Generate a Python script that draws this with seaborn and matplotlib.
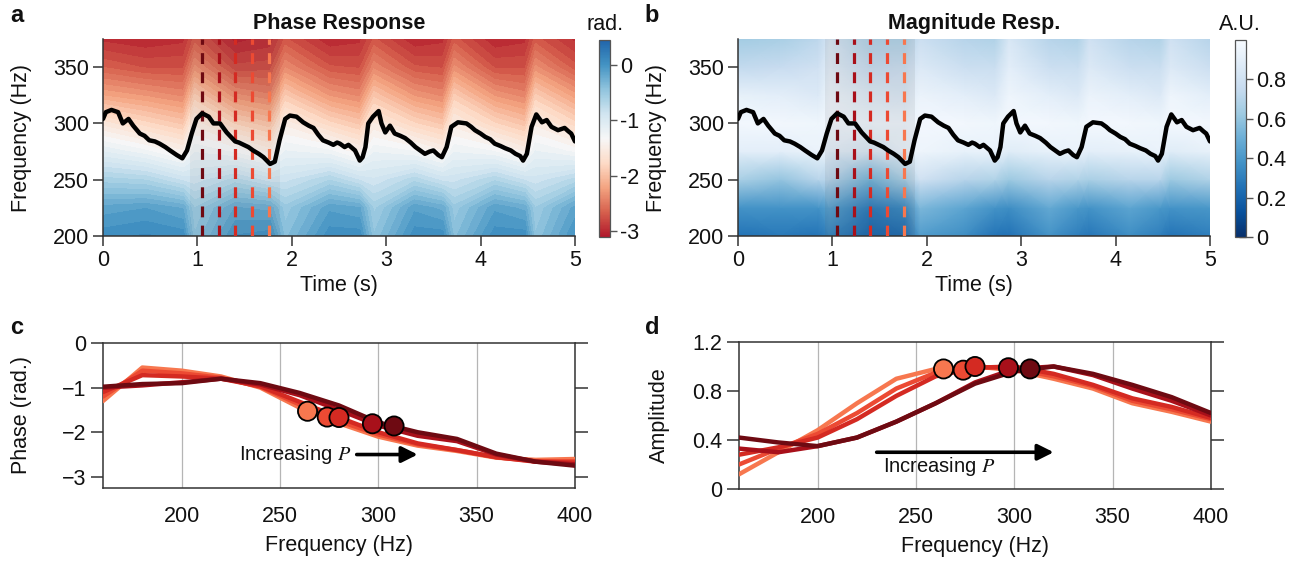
"""
Phase / magnitude response panels (a-d) recreated with seaborn + matplotlib
"""
import numpy as np
import matplotlib
matplotlib.use("Agg")
import matplotlib.pyplot as plt
from matplotlib.colors import Normalize
from matplotlib.cm import ScalarMappable
import seaborn as sns


# ---------------------------------------------------------------------------
# Data
# ---------------------------------------------------------------------------

# pitch track (black line in a and b)
pitch_t = [0.00, 0.03, 0.09, 0.16, 0.21, 0.27, 0.32, 0.39, 0.44, 0.49,
           0.55, 0.60, 0.66, 0.71, 0.78, 0.84, 0.89, 0.94, 0.99, 1.05,
           1.12, 1.17, 1.24, 1.31, 1.40, 1.44, 1.49, 1.54, 1.59, 1.65,
           1.70, 1.77, 1.82, 1.87, 1.93, 1.98, 2.05, 2.12, 2.18, 2.23,
           2.28, 2.33, 2.39, 2.44, 2.48, 2.51, 2.56, 2.60, 2.67, 2.72,
           2.75, 2.78, 2.81, 2.86, 2.92, 2.95, 2.99, 3.04, 3.09, 3.15,
           3.20, 3.26, 3.31, 3.36, 3.41, 3.46, 3.50, 3.55, 3.59, 3.64,
           3.69, 3.76, 3.85, 3.90, 3.94, 4.00, 4.05, 4.10, 4.15, 4.21,
           4.26, 4.32, 4.37, 4.42, 4.45, 4.49, 4.54, 4.59, 4.65, 4.70,
           4.75, 4.82, 4.89, 4.93, 4.96, 5.00]
pitch_f = [304, 310, 312, 310, 300, 304, 298, 291, 289, 285,
           284, 282, 279, 276, 272, 269, 276, 291, 304, 309,
           306, 300, 300, 292, 284, 283, 281, 279, 276, 273,
           270, 264, 266, 285, 304, 307, 306, 301, 298, 296,
           290, 285, 283, 281, 283, 282, 279, 281, 276, 267,
           270, 279, 300, 306, 311, 300, 292, 298, 291, 289,
           287, 283, 279, 276, 273, 275, 276, 272, 270, 279,
           297, 301, 300, 297, 294, 291, 288, 286, 282, 280,
           278, 276, 273, 271, 267, 273, 297, 308, 301, 303,
           297, 294, 296, 293, 291, 284]

# coarse time x frequency grids
grid_t = [0.00, 0.45, 0.85, 0.97, 1.40, 1.77, 1.93, 2.40, 2.72,
          2.87, 3.30, 3.60, 3.72, 4.15, 4.47, 4.58, 5.00]
grid_f = [200, 225, 250, 275, 300, 325, 350, 375]

phase_grid = [
    [0.05, 0.10, 0.05, -0.45, 0.00, 0.05, -0.40, 0.05, 0.05, -0.45, 0.05, 0.05, -0.40, 0.05, 0.05, -0.45, 0.00],
    [-0.15, -0.10, -0.20, -0.55, -0.18, -0.22, -0.52, -0.12, -0.18, -0.58, -0.12, -0.22, -0.52, -0.12, -0.22, -0.55, -0.15],
    [-0.60, -0.65, -0.85, -0.88, -0.70, -0.88, -0.86, -0.65, -0.84, -0.90, -0.68, -0.86, -0.86, -0.66, -0.84, -0.88, -0.70],
    [-1.10, -1.25, -1.45, -1.20, -1.30, -1.50, -1.18, -1.25, -1.45, -1.20, -1.28, -1.45, -1.20, -1.28, -1.48, -1.18, -1.30],
    [-1.60, -1.80, -1.95, -1.50, -1.85, -2.00, -1.50, -1.80, -1.95, -1.55, -1.82, -1.95, -1.52, -1.82, -1.98, -1.50, -1.80],
    [-2.20, -2.30, -2.40, -1.90, -2.35, -2.45, -1.92, -2.30, -2.40, -1.95, -2.30, -2.40, -1.90, -2.30, -2.42, -1.90, -2.25],
    [-2.65, -2.75, -2.75, -2.35, -2.80, -2.78, -2.38, -2.72, -2.75, -2.40, -2.72, -2.75, -2.35, -2.75, -2.75, -2.35, -2.70],
    [-2.95, -3.00, -2.95, -2.70, -3.05, -2.98, -2.72, -3.00, -2.95, -2.72, -3.00, -2.95, -2.70, -3.00, -2.95, -2.70, -2.95],
]

mag_grid = [
    [0.26, 0.28, 0.26, 0.32, 0.20, 0.22, 0.42, 0.36, 0.26, 0.25, 0.38, 0.30, 0.27, 0.36, 0.30, 0.26, 0.30],
    [0.38, 0.38, 0.38, 0.44, 0.28, 0.34, 0.54, 0.46, 0.38, 0.36, 0.48, 0.40, 0.38, 0.46, 0.40, 0.38, 0.40],
    [0.66, 0.60, 0.70, 0.70, 0.52, 0.66, 0.80, 0.70, 0.68, 0.62, 0.70, 0.68, 0.66, 0.70, 0.70, 0.62, 0.68],
    [0.90, 0.90, 0.94, 0.90, 0.85, 0.93, 0.95, 0.92, 0.93, 0.88, 0.92, 0.93, 0.90, 0.92, 0.93, 0.88, 0.92],
    [0.97, 0.97, 0.96, 0.98, 0.96, 0.96, 0.98, 0.97, 0.96, 0.98, 0.97, 0.96, 0.98, 0.97, 0.96, 0.98, 0.97],
    [0.92, 0.90, 0.86, 0.95, 0.88, 0.86, 0.94, 0.90, 0.86, 0.95, 0.90, 0.86, 0.94, 0.90, 0.86, 0.95, 0.90],
    [0.74, 0.76, 0.80, 0.90, 0.76, 0.78, 0.86, 0.78, 0.77, 0.90, 0.78, 0.77, 0.86, 0.78, 0.77, 0.86, 0.78],
    [0.64, 0.66, 0.72, 0.84, 0.68, 0.68, 0.78, 0.70, 0.68, 0.84, 0.70, 0.68, 0.80, 0.70, 0.68, 0.80, 0.70],
]

# analysis frames (dashed lines), earliest = darkest
frame_times = [1.05, 1.23, 1.40, 1.58, 1.76]
span_times = [0.92, 1.87]

# response curves (c, d), ordered light -> dark
resp_freq = [160, 180, 200, 220, 240, 260, 280, 300, 320, 340, 360, 380, 400]
phase_curves = [
    [-1.30, -0.55, -0.62, -0.75, -1.00, -1.45, -1.80, -2.10, -2.30, -2.42, -2.57, -2.62, -2.60],
    [-1.20, -0.62, -0.68, -0.78, -0.98, -1.38, -1.75, -2.05, -2.27, -2.40, -2.56, -2.65, -2.65],
    [-1.10, -0.72, -0.75, -0.80, -0.97, -1.32, -1.67, -2.00, -2.25, -2.40, -2.56, -2.66, -2.68],
    [-1.00, -0.95, -0.88, -0.80, -0.93, -1.17, -1.50, -1.85, -2.08, -2.20, -2.50, -2.66, -2.72],
    [-0.98, -0.92, -0.90, -0.80, -0.90, -1.12, -1.40, -1.78, -2.00, -2.15, -2.48, -2.66, -2.75],
]
amp_curves = [
    [0.12, 0.30, 0.48, 0.70, 0.90, 0.98, 1.00, 0.97, 0.90, 0.82, 0.70, 0.63, 0.55],
    [0.20, 0.33, 0.45, 0.62, 0.82, 0.95, 1.00, 0.98, 0.92, 0.84, 0.72, 0.65, 0.57],
    [0.28, 0.34, 0.42, 0.57, 0.76, 0.92, 0.99, 1.00, 0.94, 0.85, 0.74, 0.67, 0.58],
    [0.33, 0.30, 0.35, 0.42, 0.55, 0.70, 0.87, 0.98, 1.00, 0.93, 0.82, 0.72, 0.60],
    [0.42, 0.38, 0.35, 0.42, 0.55, 0.70, 0.86, 0.96, 1.00, 0.94, 0.85, 0.75, 0.62],
]
peak_freq = [264, 274, 280, 297, 308]
peak_phase = [-1.53, -1.66, -1.67, -1.81, -1.86]
peak_amp = [0.98, 0.97, 1.00, 0.99, 0.98]

curve_colors = ['#f7774f', '#ec4a33', '#d42a22', '#a8101a', '#6e0a12']

phase_cbar_ticks = [0, -1, -2, -3]
phase_cbar_labels = ['0', '-1', '-2', '-3']
mag_cbar_ticks = [0, 0.2, 0.4, 0.6, 0.8]
mag_cbar_labels = ['0', '0.2', '0.4', '0.6', '0.8']

# arrow extents for the "Increasing P" annotations
arrow_c = [289, 320, -2.5]
arrow_d = [230, 320, 0.30]


# ---------------------------------------------------------------------------
# Style
# ---------------------------------------------------------------------------
sns.set_theme(style='ticks')
plt.rcParams['font.family'] = ['Liberation Sans', 'DejaVu Sans']
plt.rcParams['mathtext.fontset'] = 'stix'
plt.rcParams['axes.edgecolor'] = '#333333'
plt.rcParams['axes.linewidth'] = 1.1
for key in ('text.color', 'axes.labelcolor', 'xtick.labelcolor', 'ytick.labelcolor'):
    plt.rcParams[key] = '#111111'
plt.rcParams['xtick.color'] = '#333333'
plt.rcParams['ytick.color'] = '#333333'
FS = 15.5

W, H = 1296, 566


def box(x0, y_top, w, h):
    """pixel box -> figure fraction"""
    return [x0 / W, (H - y_top - h) / H, w / W, h / H]


fig = plt.figure(figsize=(12.96, 5.66), dpi=100)
ax_a = fig.add_axes(box(103, 39, 472, 197))
cax_a = fig.add_axes(box(599, 40, 11, 197))
ax_b = fig.add_axes(box(738, 39, 472, 197))
cax_b = fig.add_axes(box(1235, 40, 11, 197))
ax_c = fig.add_axes(box(103, 343, 472, 145))
ax_d = fig.add_axes(box(739, 342, 472, 147))

phase_cmap = sns.blend_palette(sns.color_palette('RdBu', 9), as_cmap=True)
phase_norm = Normalize(-3.1, 0.45)
mag_cmap = sns.color_palette('Blues_r', as_cmap=True)
mag_norm = Normalize(0, 1.0)

# ---------------------------------------------------------------------------
# a / b : heat maps with pitch track
# ---------------------------------------------------------------------------
ax_a.contourf(grid_t, grid_f, np.array(phase_grid),
              levels=np.linspace(-3.1, 0.45, 40), cmap=phase_cmap, norm=phase_norm)
ax_b.pcolormesh(grid_t, grid_f, np.array(mag_grid), shading='gouraud',
                cmap=mag_cmap, norm=mag_norm)

for ax, title, shade in [(ax_a, 'Phase Response', 0.07), (ax_b, 'Magnitude Resp.', 0.10)]:
    ax.axvspan(span_times[0], span_times[1], color='#606060', alpha=shade, lw=0, zorder=2)
    for t, col in zip(frame_times, curve_colors[::-1]):
        ax.axvline(t, color=col, lw=2.3, ls=(0, (3.4, 2.6)), zorder=3)
    sns.lineplot(x=pitch_t, y=pitch_f, ax=ax, color='black', lw=3.2,
                 sort=False, estimator=None, zorder=4)
    ax.set_xlim(0, 5)
    ax.set_ylim(200, 375)
    ax.set_xticks([0, 1, 2, 3, 4, 5])
    ax.set_yticks([200, 250, 300, 350])
    ax.set_title(title, fontsize=FS, fontweight='bold', pad=7)
    ax.set_xlabel('Time (s)', fontsize=FS, labelpad=3)
    ax.set_ylabel('Frequency (Hz)', fontsize=FS)
    ax.yaxis.set_label_coords(-0.15, 0.5)
    ax.tick_params(labelsize=FS, length=7, width=1.1, direction='out', pad=3)
    sns.despine(ax=ax, top=True, right=True)

cb_a = fig.colorbar(ScalarMappable(norm=phase_norm, cmap=phase_cmap), cax=cax_a)
cb_a.set_ticks(phase_cbar_ticks)
cb_a.set_ticklabels(phase_cbar_labels)
cb_b = fig.colorbar(ScalarMappable(norm=mag_norm, cmap=mag_cmap), cax=cax_b)
cb_b.set_ticks(mag_cbar_ticks)
cb_b.set_ticklabels(mag_cbar_labels)
for cb in (cb_a, cb_b):
    cb.outline.set_edgecolor('#555555')
    cb.outline.set_linewidth(0.9)
    cb.ax.tick_params(labelsize=FS, direction='inout', length=10, width=1.0,
                      color='#555555', pad=2)
fig.text(605 / W, 1 - 24 / H, 'rad.', fontsize=FS, ha='center', va='center')
fig.text(1240 / W, 1 - 25 / H, 'A.U.', fontsize=FS, ha='center', va='center')

# ---------------------------------------------------------------------------
# c / d : response slices
# ---------------------------------------------------------------------------
for ax, curves, peaks in [(ax_c, phase_curves, peak_phase), (ax_d, amp_curves, peak_amp)]:
    for curve, col in zip(curves, curve_colors):
        sns.lineplot(x=resp_freq, y=curve, ax=ax, color=col, lw=3.2,
                     estimator=None, zorder=3)
    sns.scatterplot(x=peak_freq, y=peaks, ax=ax, hue=list(range(5)),
                    palette=curve_colors, s=190, edgecolor='black',
                    linewidth=1.3, legend=False, zorder=5)
    ax.set_xlim(160, 400)
    ax.set_xticks([200, 250, 300, 350, 400])
    ax.grid(axis='x', color='#b5b5b5', lw=0.9)
    ax.set_axisbelow(True)
    ax.set_xlabel('Frequency (Hz)', fontsize=FS, labelpad=6)
    ax.tick_params(axis='x', labelsize=FS, length=0, pad=13)
    ax.tick_params(axis='y', labelsize=FS, length=9, width=1.1, direction='out',
                   right=True, pad=3)

ax_c.set_ylim(-3.25, 0)
ax_c.set_yticks([0, -1, -2, -3])
ax_c.set_ylabel('Phase (rad.)', fontsize=FS)
ax_c.yaxis.set_label_coords(-0.15, 0.5)
ax_d.set_ylim(0, 1.2)
ax_d.set_yticks([0, 0.4, 0.8, 1.2])
ax_d.set_yticklabels(['0', '0.4', '0.8', '1.2'])
ax_d.set_ylabel('Amplitude', fontsize=FS)
ax_d.yaxis.set_label_coords(-0.146, 0.5)

arrow_kw = dict(arrowstyle='-|>', color='black', lw=2.6, mutation_scale=24,
                shrinkA=0, shrinkB=0)
ax_c.annotate('', xy=(arrow_c[1], arrow_c[2]), xytext=(arrow_c[0], arrow_c[2]),
              arrowprops=arrow_kw)
ax_c.text(229, arrow_c[2], 'Increasing $P$', fontsize=FS - 1, ha='left', va='center')
ax_d.annotate('', xy=(arrow_d[1], arrow_d[2]), xytext=(arrow_d[0], arrow_d[2]),
              arrowprops=arrow_kw)
ax_d.text(233, 0.18, 'Increasing $P$', fontsize=FS - 1, ha='left', va='center')

# panel letters
for x, y, s in [(17, 16, 'a'), (652, 16, 'b'), (17, 328, 'c'), (652, 328, 'd')]:
    fig.text(x / W, 1 - y / H, s, fontsize=17, fontweight='bold', ha='center', va='center')

fig.savefig('out.png', dpi=100)
plt.close(fig)
